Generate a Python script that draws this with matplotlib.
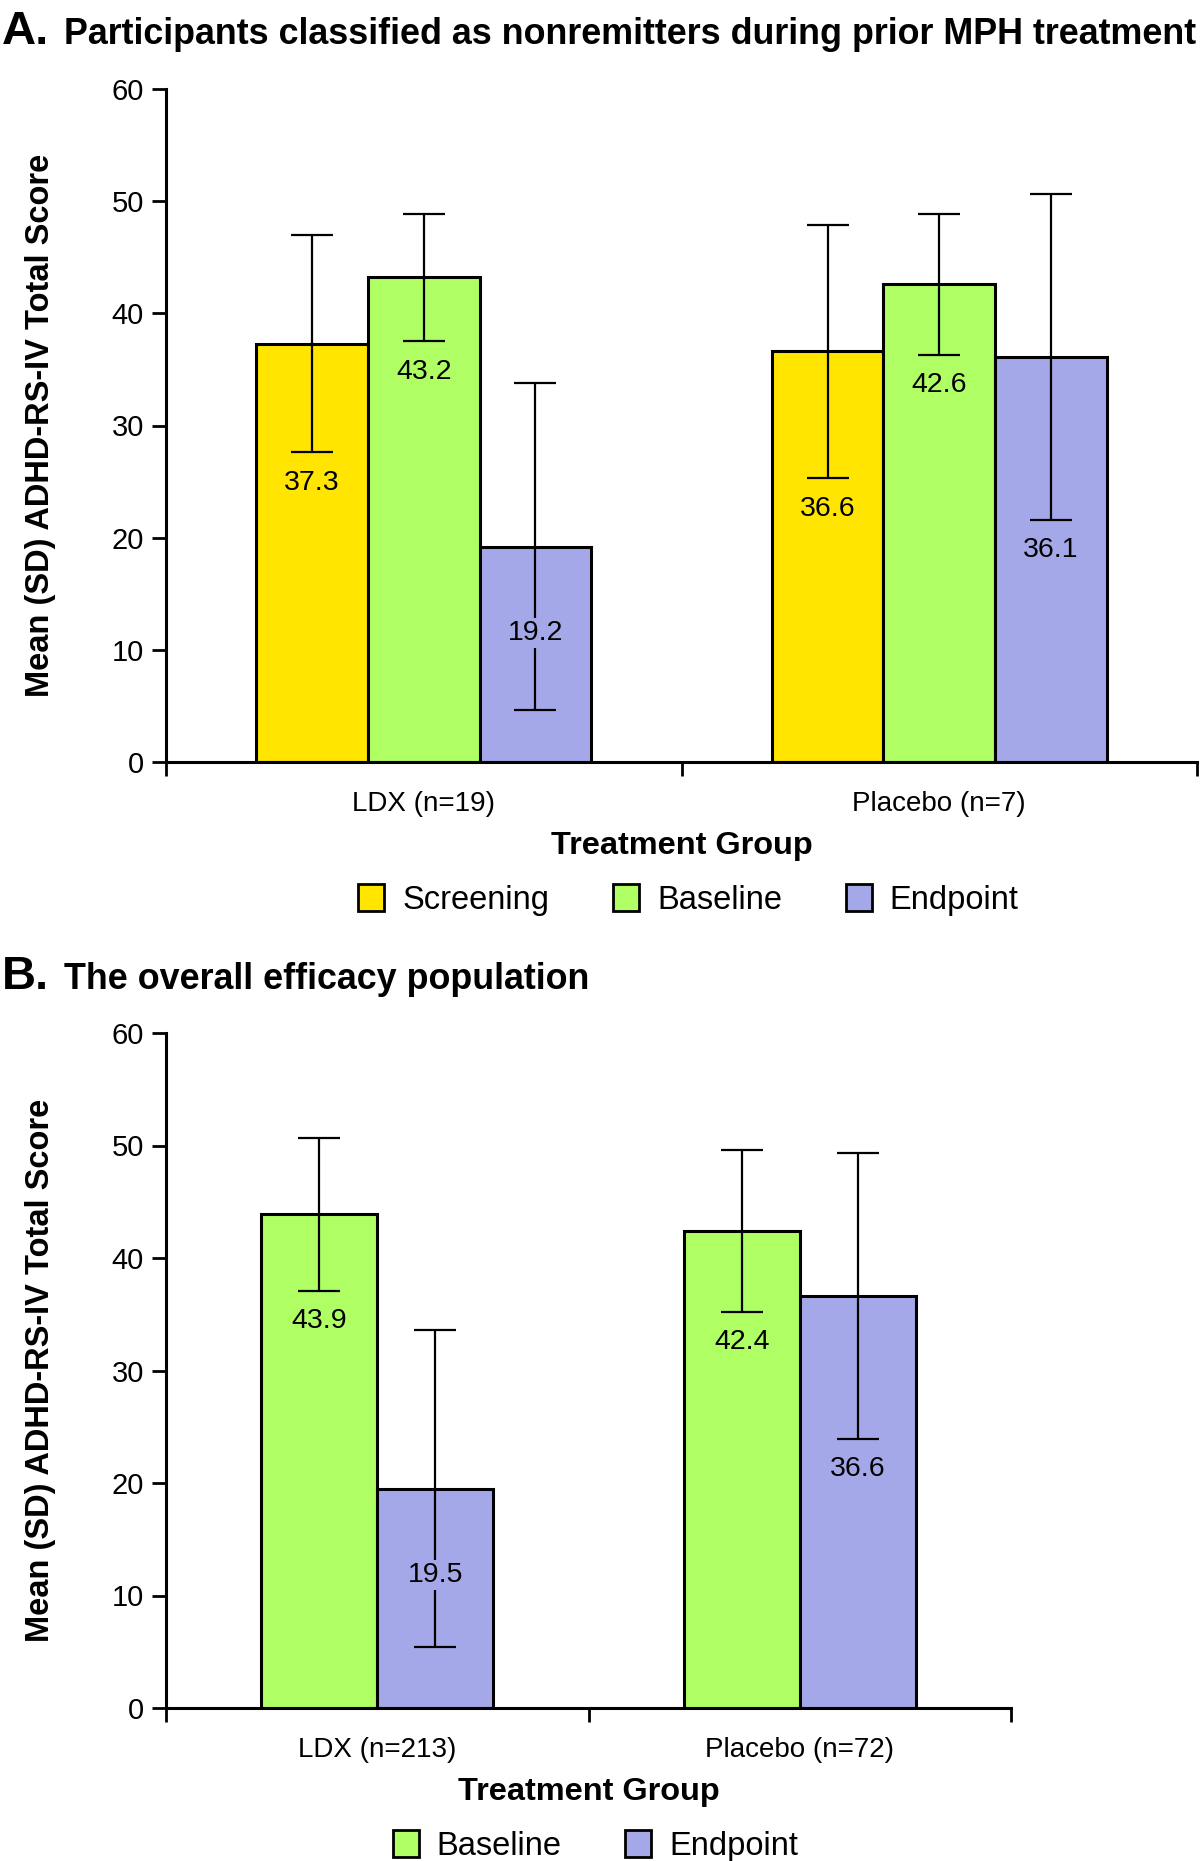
import matplotlib
matplotlib.use("Agg")
import matplotlib.pyplot as plt
from matplotlib.patches import Patch
import numpy as np

plt.rcParams['font.family'] = ['Liberation Sans', 'DejaVu Sans']

# ---------------- data ----------------
groups_a = ["LDX (n=19)", "Placebo (n=7)"]
series_a = ["Screening", "Baseline", "Endpoint"]
means_a = {
    "Screening": [37.3, 36.6],
    "Baseline": [43.2, 42.6],
    "Endpoint": [19.2, 36.1],
}
sd_a = {
    "Screening": [9.7, 11.3],
    "Baseline": [5.7, 6.3],
    "Endpoint": [14.6, 14.5],
}

groups_b = ["LDX (n=213)", "Placebo (n=72)"]
series_b = ["Baseline", "Endpoint"]
means_b = {
    "Baseline": [43.9, 42.4],
    "Endpoint": [19.5, 36.6],
}
sd_b = {
    "Baseline": [6.8, 7.2],
    "Endpoint": [14.1, 12.7],
}

yticks = [0, 10, 20, 30, 40, 50, 60]
xlabel = "Treatment Group"
ylabel = "Mean (SD) ADHD-RS-IV Total Score"
title_a = "Participants classified as nonremitters during prior MPH treatment"
title_b = "The overall efficacy population"

colors = {"Screening": "#FFE500", "Baseline": "#AFFF64", "Endpoint": "#A5A8E8"}

W, H = 1200, 1861
fig = plt.figure(figsize=(W / 100, H / 100), dpi=100)


def px_axes(l, r, t, b):
    return fig.add_axes([l / W, 1 - b / H, (r - l) / W, (b - t) / H])


def draw_panel(ax, groups, series, means, sds, bar_w, axw_px, axh_px):
    n = len(series)
    centers = np.arange(len(groups)) + 0.5
    for i, s in enumerate(series):
        xs = centers + (i - (n - 1) / 2) * bar_w
        m = np.array(means[s])
        sd = np.array(sds[s])
        ax.bar(xs, m, width=bar_w, color=colors[s], edgecolor='black',
               linewidth=2.2, zorder=2)
        ax.errorbar(xs, m, yerr=sd, fmt='none', ecolor='black',
                    elinewidth=1.6, capsize=15, capthick=1.6, zorder=3)
        for x, mv, sv in zip(xs, m, sd):
            low = mv - sv
            if low > 10:
                ax.text(x, low - 2.7, f"{mv:.1f}", ha='center', va='center',
                        fontsize=20.5, zorder=4)
            else:
                ax.text(x, mv - 7.7, f"{mv:.1f}", ha='center', va='center',
                        fontsize=20.5, zorder=4,
                        bbox=dict(facecolor=colors[s], edgecolor='none', pad=1.5))
    ax.set_xlim(0, len(groups))
    ax.set_ylim(0, 60)
    ax.set_yticks(yticks)
    ax.set_yticklabels([str(v) for v in yticks], fontsize=21)
    ax.set_xticks(centers)
    ax.set_xticklabels(groups, fontsize=20)
    ax.set_xticks(np.arange(len(groups) + 1), minor=True)
    ax.tick_params(axis='x', which='major', length=0, pad=21)
    ax.tick_params(axis='x', which='minor', length=10, width=2, direction='out')
    ax.tick_params(axis='y', which='major', length=10, width=2, direction='out', pad=6)
    for sp in ['top', 'right']:
        ax.spines[sp].set_visible(False)
    for sp in ['left', 'bottom']:
        ax.spines[sp].set_linewidth(2.2)
    ax.set_ylabel(ylabel, fontsize=23.5, fontweight='bold')
    ax.text(0.5, -84 / axh_px, xlabel, transform=ax.transAxes, ha='center',
            va='center', fontsize=23.4, fontweight='bold')
    handles = [Patch(facecolor=colors[s], edgecolor='black', linewidth=2, label=s)
               for s in series]
    ax.legend(handles=handles, loc='center',
              bbox_to_anchor=(0.5 + 7 / axw_px, -138 / axh_px),
              ncol=len(series), frameon=False, fontsize=23.5, handlelength=0.8,
              handleheight=0.9, handletextpad=0.55, columnspacing=1.95)


# Panel A
axA = px_axes(166, 1197, 89, 762)
draw_panel(axA, groups_a, series_a, means_a, sd_a, 0.2166, 1031, 673)
axA.yaxis.set_label_coords((56 - 166) / 1031, 0.5)

# Panel B
axB = px_axes(166, 1011, 1033, 1708)
draw_panel(axB, groups_b, series_b, means_b, sd_b, 0.275, 845, 675)
axB.yaxis.set_label_coords((56 - 166) / 845, 0.5)

# Titles
fig.text(2 / W, 1 - 44 / H, "A.", fontsize=34, fontweight='bold', va='baseline', ha='left')
fig.text(64 / W, 1 - 44 / H, title_a, fontsize=25.8, fontweight='bold', va='baseline', ha='left')
fig.text(2 / W, 1 - 989 / H, "B.", fontsize=34, fontweight='bold', va='baseline', ha='left')
fig.text(64 / W, 1 - 989 / H, title_b, fontsize=25.8, fontweight='bold', va='baseline', ha='left')

fig.savefig("out.png", dpi=100, facecolor='white')
